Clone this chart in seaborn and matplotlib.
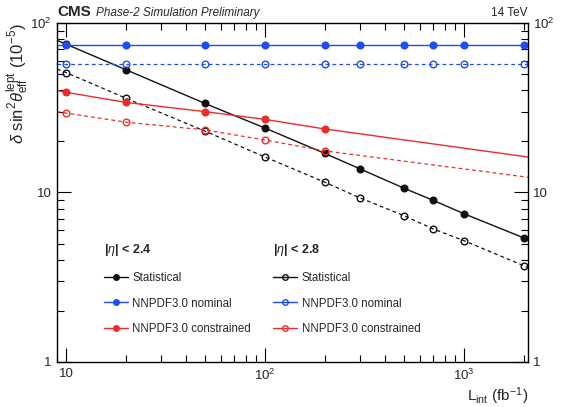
import matplotlib
matplotlib.use("Agg")
import matplotlib.pyplot as plt
from matplotlib.lines import Line2D
from matplotlib.ticker import FixedLocator, LogLocator, NullFormatter
import seaborn as sns

# integrated luminosity points (fb^-1)
lumi = [10, 20, 50, 100, 200, 300, 500, 700, 1000, 2000]
lumi_con = [10, 20, 50, 100, 200]
x_edges = [9, 2100]

# delta sin^2 theta (1e-5)
stat_24 = [75, 53, 33.5, 24, 17, 13.8, 10.6, 9.0, 7.5, 5.4]
stat_28 = [51, 36, 23, 16.2, 11.5, 9.3, 7.3, 6.1, 5.2, 3.7]
nom_24 = [74, 74, 74, 74, 74, 74, 74, 74, 74, 74]
nom_28 = [57, 57, 57, 57, 57, 57, 57, 57, 57, 57]
con_24 = [39, 34, 30, 27, 23.7]
con_28 = [29.4, 26, 23.4, 20.4, 17.6]

# fitted-line values where the curves meet the frame edges
stat_24_edges = [79, 5.25]
stat_28_edges = [53.5, 3.6]
nom_24_edges = [74, 74]
nom_28_edges = [57, 57]
con_24_edges = [40, 16.2]
con_28_edges = [30, 12.3]

BLACK = "#111111"
BLUE = "#1f4cf5"
RED = "#ee2b2b"

sns.set_style("ticks")
plt.rcParams["font.family"] = ["Liberation Sans", "DejaVu Sans"]
plt.rcParams["mathtext.fontset"] = "custom"
plt.rcParams["mathtext.rm"] = "Liberation Sans"
plt.rcParams["mathtext.it"] = "Liberation Sans:italic"

fig = plt.figure(figsize=(5.67, 4.07), dpi=100)
ax = fig.add_axes([0.1005, 0.1106, 0.8305, 0.8329])

series = [
    (lumi, stat_24, stat_24_edges, BLACK, "-", True),
    (lumi, stat_28, stat_28_edges, BLACK, (0, (3, 2.5)), False),
    (lumi, nom_24, nom_24_edges, BLUE, "-", True),
    (lumi, nom_28, nom_28_edges, BLUE, (0, (3, 2.5)), False),
    (lumi_con, con_24, con_24_edges, RED, "-", True),
    (lumi_con, con_28, con_28_edges, RED, (0, (3, 2.5)), False),
]

for xs, ys, edges, col, ls, filled in series:
    xl = [x_edges[0]] + xs + [x_edges[1]]
    yl = [edges[0]] + ys + [edges[1]]
    lw = 1.0 if ls == "-" else 0.9
    sns.lineplot(x=xl, y=yl, ax=ax, color=col, linewidth=lw, linestyle=ls,
                 estimator=None, sort=False)
    sns.lineplot(x=xs, y=ys, ax=ax, color=col, linestyle="", marker="o",
                 markersize=4.8, markeredgewidth=1.0,
                 markerfacecolor=col if filled else "none",
                 markeredgecolor=col, estimator=None, sort=False)

ax.set_xscale("log")
ax.set_yscale("log")
ax.set_xlim(x_edges[0], x_edges[1])
ax.set_ylim(1, 100)

ax.xaxis.set_major_locator(FixedLocator([10, 100, 1000]))
ax.set_xticklabels(["10", r"$10^2$", r"$10^3$"])
ax.xaxis.set_minor_locator(LogLocator(base=10, subs=range(2, 10)))
ax.xaxis.set_minor_formatter(NullFormatter())
ax.yaxis.set_major_locator(FixedLocator([1, 10, 100]))
ax.set_yticklabels(["1", "10", r"$10^2$"])
ax.yaxis.set_minor_locator(LogLocator(base=10, subs=range(2, 10)))
ax.yaxis.set_minor_formatter(NullFormatter())

ax.tick_params(which="both", direction="in", top=True, right=True,
               labelright=True, labelsize=9.5, color="black", width=0.8)
ax.tick_params(axis="x", which="major", length=10, pad=4)
ax.tick_params(axis="x", which="minor", length=5)
ax.tick_params(axis="y", which="major", length=10, pad=4)
ax.tick_params(axis="y", which="minor", length=5)
for s in ax.spines.values():
    s.set_visible(True)
    s.set_linewidth(1.0)
    s.set_color("black")

ax.set_xlabel(r"L$_{\mathrm{int}}$ (fb$^{-1}$)", fontsize=11)
ax.xaxis.set_label_coords(1.0, -0.068)
ax.xaxis.label.set_horizontalalignment("right")
ax.xaxis.label.set_verticalalignment("top")
ax.set_ylabel(r"$\delta$ sin$^2\theta^{\mathrm{lept}}_{\mathrm{eff}}$ (10$^{-5}$)",
              fontsize=12)
ax.yaxis.set_label_coords(-0.055, 1.0)
ax.yaxis.label.set_horizontalalignment("right")

ax.text(0.0, 1.012, "CMS", transform=ax.transAxes, fontsize=11,
        fontweight="bold", ha="left", va="bottom")
ax.text(0.082, 1.012, "Phase-2 Simulation Preliminary", transform=ax.transAxes,
        fontsize=8.5, style="italic", ha="left", va="bottom")
ax.text(1.0, 1.012, "14 TeV", transform=ax.transAxes, fontsize=8.5,
        ha="right", va="bottom")

labels = ["Statistical", "NNPDF3.0 nominal", "NNPDF3.0 constrained"]
cols = [BLACK, BLUE, RED]


def handles(filled):
    return [Line2D([], [], color=c, linewidth=1.0, marker="o", markersize=4,
                   markerfacecolor=c if filled else "none", markeredgecolor=c)
            for c in cols]


leg_kw = dict(alignment="left", frameon=False, fontsize=8.3,
              title_fontproperties={"weight": "bold", "size": 9},
              loc="upper left", handlelength=2.1, handletextpad=0.4,
              labelspacing=1.2)
leg1 = ax.legend(handles(True), labels, title=r"|$\eta$| < 2.4",
                 bbox_to_anchor=(0.077, 0.385), **leg_kw)
ax.add_artist(leg1)
ax.legend(handles(False), labels, title=r"|$\eta$| < 2.8",
          bbox_to_anchor=(0.437, 0.385), **leg_kw)

fig.savefig("out.png", dpi=100)
